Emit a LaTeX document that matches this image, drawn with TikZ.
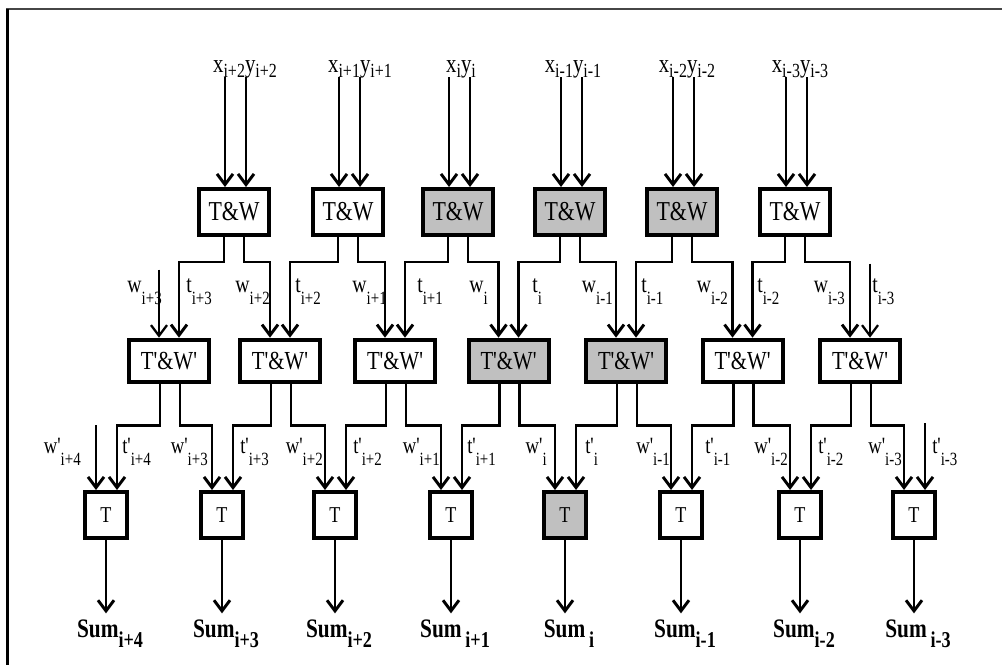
\documentclass[tikz,border=0pt]{standalone}
\usepackage{fontspec}
\setmainfont{Liberation Serif}[FakeStretch=0.8,Ligatures=TeXOff]
\usepackage{graphicx}
\usetikzlibrary{arrows.meta,positioning}
\definecolor{boxgray}{RGB}{192,192,192}
\definecolor{framegray}{RGB}{70,70,70}
% lowered subscripts, one per label row
\newcommand{\subx}[1]{\raisebox{-3.8pt}{\fontsize{15}{15}\selectfont #1}}
\newcommand{\subw}[1]{\raisebox{-9.7pt}{\fontsize{14}{14}\selectfont #1}}
\newcommand{\subt}[1]{\raisebox{-9pt}{\fontsize{14}{14}\selectfont #1}}
\newcommand{\subsum}[1]{\raisebox{-8.2pt}{\fontsize{17}{17}\selectfont\bfseries #1}}

\begin{document}
\begin{tikzpicture}[x=0.75pt,y=-0.75pt,
  tw/.style={draw,line width=3pt,inner sep=0pt,minimum width=53pt,
    minimum height=34.5pt,font=\fontsize{20.5}{20.5}\selectfont},
  twp/.style={draw,line width=3pt,inner sep=0pt,minimum width=60pt,
    minimum height=32pt,font=\fontsize{19.5}{19.5}\selectfont},
  tb/.style={draw,line width=3pt,inner sep=0pt,minimum width=31.5pt,
    minimum height=34.5pt,font=\fontsize{17}{17}\selectfont},
  flow/.style={-{Straight Barb[length=8pt,width=12pt]},line width=2.2pt},
  inlab/.style={inner sep=0pt,anchor=base,font=\fontsize{19.5}{19.5}\selectfont},
  wlab/.style={inner sep=0pt,anchor=base east,font=\fontsize{18.5}{18.5}\selectfont},
  tlab/.style={inner sep=0pt,anchor=base west,font=\fontsize{18.5}{18.5}\selectfont},
  wplab/.style={inner sep=0pt,anchor=base east,font=\fontsize{17.5}{17.5}\selectfont},
  tplab/.style={inner sep=0pt,anchor=base west,font=\fontsize{17.5}{17.5}\selectfont},
  sumlab/.style={inner sep=0pt,outer sep=4.5pt,anchor=base,
    font=\fontsize{20}{20}\selectfont\bfseries}
]
  \useasboundingbox (0,0) rectangle (1002,665);
  % frame
  \draw[line width=2pt,framegray] (6,9) -- (1002,9);
  \draw[line width=2.4pt] (7.5,9) -- (7.5,665);

  % T&W row
  \foreach \k/\cx/\f in {1/234/white,2/348/white,3/458/boxgray,4/570/boxgray,
      5/682/boxgray,6/795/white}
    \node[tw,fill=\f] (tw\k) at (\cx,212) {T\&W};
  % T'&W' row
  \foreach \k/\cx/\f in {1/169/white,2/280/white,3/395/white,4/508.5/boxgray,
      5/626/boxgray,6/742.5/white,7/860/white}
    \node[twp,fill=\f] (twp\k) at (\cx,361) {T'\&W'};
  % T row
  \foreach \k/\cx/\f in {1/106/white,2/222/white,3/335/white,4/451/white,
      5/565/boxgray,6/681/white,7/800/white,8/914/white}
    \node[tb,fill=\f] (tb\k) at (\cx,515) {T};

  % inputs x, y
  \foreach \k/\lx/\s in {1/245/i+2,2/360/i+1,3/461/i,4/573/i-1,5/687/i-2,6/800/i-3} {
    \node[inlab] (in\k) at (\lx,72) {x\subx{\s}y\subx{\s}};
    \draw[flow] ([shift={(-9,-110)}]tw\k.north) coordinate (xs\k)
      -- ([shift={(-9,0)}]tw\k.north);
    \draw[flow] ([shift={(12,-110)}]tw\k.north) coordinate (ys\k)
      -- ([shift={(12,0)}]tw\k.north);
  }

  % T&W -> T'&W'
  \foreach \k in {1,...,6} {
    \pgfmathtruncatemacro{\n}{\k+1}
    \draw[flow] ([shift={(-10,0)}]tw\k.south) -- ++(0,25)
      -| ([shift={(10,0)}]twp\k.north);
    \draw[flow] ([shift={(10,0)}]tw\k.south) -- ++(0,25)
      -| ([shift={(-10,0)}]twp\n.north);
  }
  \draw[flow,line width=1.7pt] ([shift={(-10,-68)}]twp1.north) coordinate (wtop)
    -- ([shift={(-10,0)}]twp1.north);
  \draw[flow,line width=1.7pt] ([shift={(10,-74)}]twp7.north) coordinate (ttop)
    -- ([shift={(10,0)}]twp7.north);

  % T'&W' -> T
  \foreach \k in {1,...,7} {
    \pgfmathtruncatemacro{\n}{\k+1}
    \draw[flow] ([shift={(-9,0)}]twp\k.south) -- ++(0,41)
      -| ([shift={(11,0)}]tb\k.north);
    \draw[flow] ([shift={(11,0)}]twp\k.south) -- ++(0,41)
      -| ([shift={(-10,0)}]tb\n.north);
  }
  \draw[flow] ([shift={(-10,-65)}]tb1.north) coordinate (wptop)
    -- ([shift={(-10,0)}]tb1.north);
  \draw[flow] ([shift={(11,-67)}]tb8.north) coordinate (tptop)
    -- ([shift={(11,0)}]tb8.north);

  % w, t labels
  \foreach \k/\lx/\s in {1/162/i+3,2/270/i+2,3/387/i+1,4/488/i,5/613/i-1,
      6/728/i-2,7/845/i-3}
    \node[wlab] (w\k) at (\lx,292) {w\subw{\s}};
  \foreach \k/\lx/\s in {1/186/i+3,2/295/i+2,3/417/i+1,4/532/i,5/641/i-1,
      6/757/i-2,7/872/i-3}
    \node[tlab] (t\k) at (\lx,292) {t\subw{\s}};
  % w', t' labels
  \foreach \k/\lx/\s in {1/81/i+4,2/208/i+3,3/323/i+2,4/440/i+1,5/547/i,
      6/670/i-1,7/788/i-2,8/902/i-3}
    \node[wplab] (wp\k) at (\lx,453) {w'\subt{\s}};
  \foreach \k/\lx/\s in {1/122/i+4,2/240/i+3,3/353/i+2,4/467/i+1,5/585/i,
      6/705/i-1,7/818/i-2,8/932/i-3}
    \node[tplab] (tp\k) at (\lx,453) {t'\subt{\s}};

  % sums
  \foreach \k/\cx/\s in {1/106/i+4,2/222/i+3,3/335/i+2,4/451/\,i+1,5/565/\,i,
      6/681/i-1,7/800/i-2,8/914/\,i-3} {
    \node[sumlab] (sum\k) at (\cx+4,637) {Sum\subsum{\s}};
    \draw[flow] (tb\k.south) -- (tb\k.south |- sum\k.north);
  }
\end{tikzpicture}
\end{document}
